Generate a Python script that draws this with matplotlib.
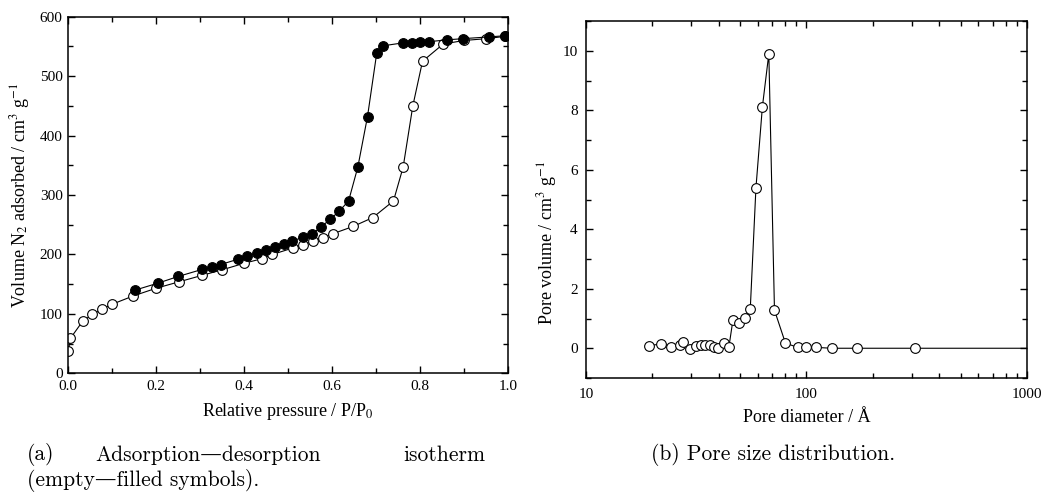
import matplotlib
matplotlib.use("Agg")
import matplotlib.pyplot as plt
from matplotlib.ticker import MultipleLocator, FixedLocator, FixedFormatter, LogLocator, NullFormatter

plt.rcParams['font.family'] = ['Liberation Serif', 'DejaVu Serif']
plt.rcParams['mathtext.fontset'] = 'stix'

# isotherm, empty symbols (adsorption)
ads_p = [0.0, 0.005, 0.033, 0.055, 0.077, 0.099, 0.147, 0.199, 0.252, 0.305, 0.349,
         0.399, 0.441, 0.464, 0.511, 0.534, 0.555, 0.578, 0.602, 0.647, 0.692, 0.739,
         0.761, 0.783, 0.805, 0.852, 0.899, 0.950, 0.993]
ads_v = [38, 59, 88, 99, 108, 116, 130, 143, 154, 165, 174,
         185, 193, 200, 211, 216, 222, 228, 235, 247, 262, 290,
         347, 450, 525, 554, 560, 563, 567]

# isotherm, filled symbols (desorption)
des_p = [0.152, 0.205, 0.250, 0.305, 0.326, 0.346, 0.386, 0.407, 0.428, 0.449, 0.469,
         0.490, 0.508, 0.533, 0.553, 0.574, 0.595, 0.616, 0.637, 0.658, 0.680, 0.701,
         0.715, 0.761, 0.781, 0.800, 0.820, 0.860, 0.896, 0.956, 0.993]
des_v = [140, 152, 163, 175, 179, 183, 192, 197, 202, 207, 212,
         217, 222, 229, 234, 246, 259, 273, 290, 347, 432, 539,
         551, 556, 556, 557, 558, 561, 563, 566, 568]

# pore size distribution
pore_d = [19.3, 21.8, 24.3, 26.6, 27.6, 29.6, 31.7, 33.4, 34.8, 36.4, 37.9, 39.7,
          42.1, 44.5, 46.4, 49.4, 52.4, 55.6, 59.0, 63.1, 67.5, 71.6, 80.3, 91.3,
          99.7, 110, 130, 170, 311, 1500]
pore_v = [0.09, 0.14, 0.05, 0.11, 0.20, -0.03, 0.09, 0.11, 0.11, 0.11, 0.05, 0.0,
          0.17, 0.05, 0.95, 0.86, 1.03, 1.31, 5.39, 8.11, 9.9, 1.28, 0.17, 0.03,
          0.03, 0.03, 0.0, 0.0, 0.0, 0.0]

fig = plt.figure(figsize=(10.41, 5.0), dpi=100)
ax1 = fig.add_axes([0.0656, 0.2534, 0.4227, 0.7132])
ax2 = fig.add_axes([0.5629, 0.244, 0.4236, 0.714])

style = dict(color='black', lw=0.8, ms=7, mew=0.8, mec='black')

ax1.plot(ads_p, ads_v, '-o', mfc='white', zorder=2, **style)
ax1.plot(des_p, des_v, '-o', mfc='black', zorder=3, **style)
ax1.set_xlim(0, 1.0)
ax1.set_ylim(0, 600)
ax1.xaxis.set_major_locator(MultipleLocator(0.2))
ax1.xaxis.set_minor_locator(MultipleLocator(0.1))
ax1.yaxis.set_major_locator(MultipleLocator(100))
ax1.yaxis.set_minor_locator(MultipleLocator(50))
ax1.xaxis.set_major_formatter(plt.FuncFormatter(lambda v, p: "%.1f" % v))
ax1.set_xlabel("Relative pressure / P/P$_0$", fontsize=13, va='center')
ax1.set_ylabel("Volume N$_2$ adsorbed / cm$^3$ g$^{-1}$", fontsize=13, va='center')
ax1.xaxis.set_label_coords(0.5, -0.106)
ax1.yaxis.set_label_coords(-0.11, 0.5)

# slightly negative values are just scatter in the measurement
ax2.plot(pore_d, pore_v, '-o', mfc='white', **style)
ax2.set_xscale('log')
ax2.set_xlim(10, 1000)
ax2.set_ylim(-1, 11)
ax2.xaxis.set_major_locator(FixedLocator([10, 100, 1000]))
ax2.xaxis.set_major_formatter(FixedFormatter(["10", "100", "1000"]))
ax2.xaxis.set_minor_locator(LogLocator(base=10, subs=range(2, 10)))
ax2.xaxis.set_minor_formatter(NullFormatter())
ax2.yaxis.set_major_locator(MultipleLocator(2))
ax2.yaxis.set_minor_locator(MultipleLocator(1))
ax2.set_xlabel("Pore diameter / Å", fontsize=13, va='center')
ax2.set_ylabel("Pore volume / cm$^3$ g$^{-1}$", fontsize=13, va='center')
ax2.xaxis.set_label_coords(0.5, -0.112)
# the label sits low in the original
ax2.yaxis.set_label_coords(-0.088, 0.378)

for ax in (ax1, ax2):
    for s in ax.spines.values():
        s.set_linewidth(1.1)
    ax.tick_params(which='both', direction='in', top=True, right=True, width=1.0, labelsize=11)
    ax.tick_params(which='major', length=5)
    ax.tick_params(which='minor', length=3.5)
ax1.tick_params(axis='x', pad=5)
ax1.tick_params(axis='y', pad=4)
ax2.tick_params(axis='x', pad=7)
ax2.tick_params(axis='y', pad=6)

cap = dict(fontsize=15.5, family=['cmr10', 'DejaVu Serif'], va='center')
fig.text(27 / 1041, 1 - 455 / 500, "(a)", ha='left', **cap)
fig.text(95 / 1041, 1 - 455 / 500, "Adsorption\u2014desorption", ha='left', **cap)
fig.text(485 / 1041, 1 - 455 / 500, "isotherm", ha='right', **cap)
fig.text(27 / 1041, 1 - 481 / 500, "(empty\u2014filled symbols).", ha='left', **cap)
fig.text(773 / 1041, 1 - 455 / 500, "(b) Pore size distribution.", ha='center', **cap)

fig.savefig("out.png", dpi=100)
